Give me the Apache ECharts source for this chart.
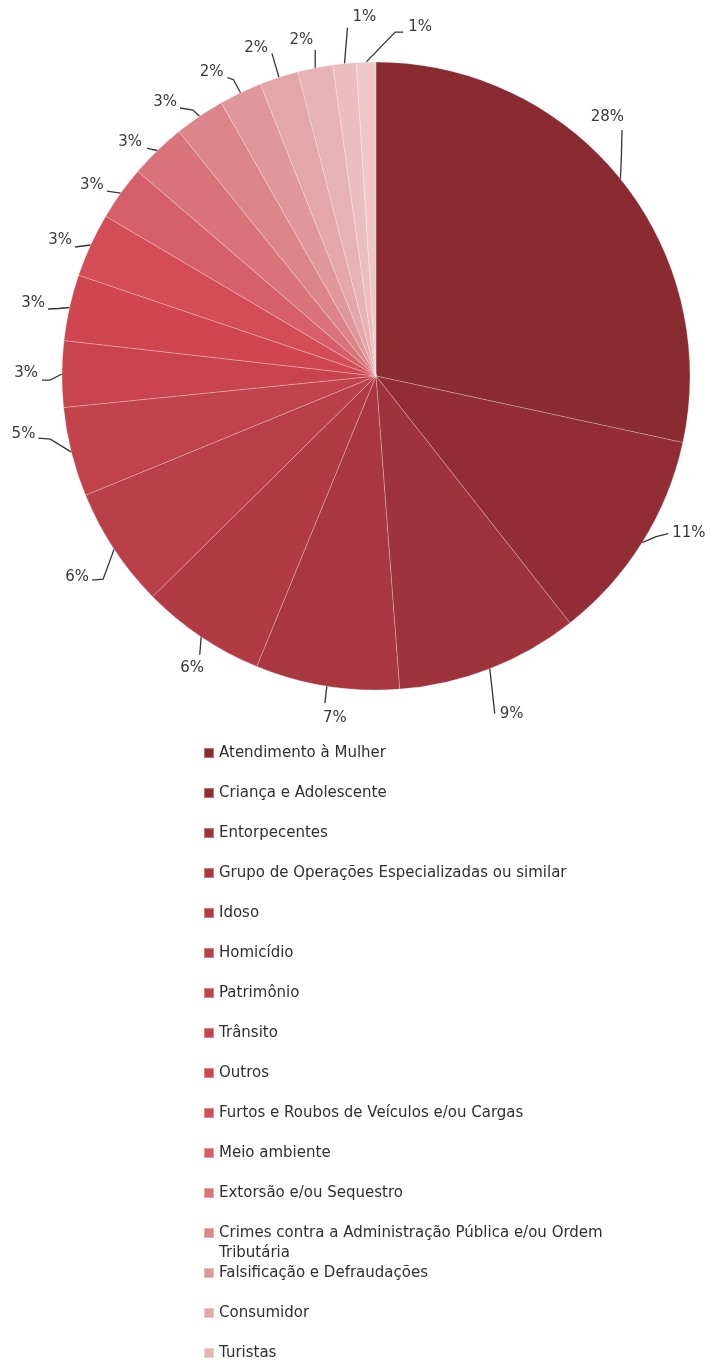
<!DOCTYPE html>
<html>
<head>
<meta charset="utf-8">
<script src="https://cdn.jsdelivr.net/npm/echarts@6/dist/echarts.min.js"></script>
<style>
  html, body { margin: 0; padding: 0; background: #ffffff; }
  #chart { width: 710px; height: 1365px; }
</style>
</head>
<body>
<div id="chart"></div>
<script>
// Categories (legend order = slice order, clockwise from 12 o'clock)
const categories = [
  'Atendimento à Mulher',
  'Criança e Adolescente',
  'Entorpecentes',
  'Grupo de Operações Especializadas ou similar',
  'Idoso',
  'Homicídio',
  'Patrimônio',
  'Trânsito',
  'Outros',
  'Furtos e Roubos de Veículos e/ou Cargas',
  'Meio ambiente',
  'Extorsão e/ou Sequestro',
  'Crimes contra a Administração Pública e/ou Ordem Tributária',
  'Falsificação e Defraudações',
  'Consumidor',
  'Turistas',
  'Categoria 17 (legenda fora da imagem)',
  'Categoria 18 (legenda fora da imagem)'
];
// Share of each slice, in percent
const values = [28.4, 11.0, 9.4, 7.4, 6.4, 6.2, 4.6, 3.4, 3.4, 3.3, 2.8, 2.9, 2.6, 2.2, 2.0, 1.8, 1.2, 1.0];
const colors = ['#892B31', '#922D35', '#9F333B', '#A8373F', '#B03B43', '#B93F48', '#C0424B', '#C8434D',
                '#CF4650', '#D34D57', '#D66069', '#D8737A', '#DB858B', '#DF979B', '#E3A6A9', '#E6B2B4',
                '#EABDBF', '#EEC8C9'];

const legendA = categories.slice(0, 12);
const legendC = categories.slice(12, 13);
const legendB = categories.slice(13, 16);

// Leader-line styling (offsets relative to the slice's edge midpoint given by ECharts)
const labelSpecs = [
  { line: [[1, -25], [1.6, -49]],     text: [-13, -62],   align: 'center' },
  { line: [[14, -6], [26, -9]],       text: [30, -9],     align: 'left' },
  { line: [[2.5, 22], [5, 45]],       text: [10, 45],     align: 'left' },
  { line: [[-1, 8], [-2, 17]],        text: [8, 32],      align: 'center' },
  { line: [[-0.7, 9], [-1.4, 18]],    text: [-9, 31],     align: 'center' },
  { line: [[-11, 30], [-22, 31]],     text: [-25, 28],    align: 'right' },
  { line: [[-21, -13], [-33, -14]],   text: [-36, -18],   align: 'right' },
  { line: [[-12, 6], [-20, 6]],       text: [-24, -1],    align: 'right' },
  { line: [[-11, 1], [-21.5, 1.5]],   text: [-24.5, -4.5], align: 'right' },
  { line: [[-8, 1], [-15.6, 2]],      text: [-18.6, -5],  align: 'right' },
  { line: [[-7, -1], [-14, -2]],      text: [-17, -8],    align: 'right' },
  { line: [[-5, -1], [-10.5, -2.5]],  text: [-15.5, -8.5], align: 'right' },
  { line: [[-6.5, -6.3], [-19.5, -8.3]], text: [-22.5, -14], align: 'right' },
  { line: [[-7, -13], [-13, -15]],    text: [-17, -21],   align: 'right' },
  { line: [[-3.5, -12], [-7, -24]],   text: [-11, -29],   align: 'right' },
  { line: [[0, -9], [0, -18]],        text: [-2, -28],    align: 'right' },
  { line: [[1.5, -18], [3, -36]],     text: [8, -46],     align: 'left' },
  { line: [[29, -30], [37, -30]],     text: [42, -35],    align: 'left' }
];

const chart = echarts.init(document.getElementById('chart'), null, { renderer: 'canvas' });
const FONT = 'DejaVu Sans';

const legendText = { fontFamily: FONT, fontSize: 15, lineHeight: 20, color: '#2f2f2f' };
const legendBase = {
  orient: 'vertical', left: 203, padding: 0,
  itemWidth: 10, itemHeight: 10, itemGap: 20,
  icon: 'rect', textStyle: legendText
};

chart.setOption({
  animation: false,
  color: colors,
  legend: [
    Object.assign({}, legendBase, { top: 743, data: legendA }),
    Object.assign({}, legendBase, {
      top: 1223, itemHeight: 30,
      icon: 'path://M0,0L10,0L10,10L0,10Z M0,30L0.01,30',
      textStyle: Object.assign({}, legendText, { width: 430, overflow: 'break' }),
      data: legendC
    }),
    Object.assign({}, legendBase, { top: 1263, data: legendB })
  ],
  series: [{
    type: 'pie',
    center: [376, 376],
    radius: 314,
    startAngle: 90,
    clockwise: true,
    avoidLabelOverlap: false,
    itemStyle: { borderColor: 'rgba(255,255,255,0.35)', borderWidth: 0.7 },
    label: {
      show: true,
      position: 'outside',
      formatter: p => Math.round(p.percent) + '%',
      fontFamily: FONT, fontSize: 15, color: '#383838'
    },
    labelLine: {
      show: true, length: 12, length2: 10,
      lineStyle: { color: '#353535', width: 1.3 }
    },
    labelLayout: function (params) {
      const spec = labelSpecs[params.dataIndex];
      const pts = params.labelLinePoints;
      if (!spec || !pts) return {};
      const p0 = pts[0];
      return {
        x: p0[0] + spec.text[0],
        y: p0[1] + spec.text[1],
        align: spec.align,
        verticalAlign: 'middle',
        labelLinePoints: [
          [p0[0], p0[1]],
          [p0[0] + spec.line[0][0], p0[1] + spec.line[0][1]],
          [p0[0] + spec.line[1][0], p0[1] + spec.line[1][1]]
        ]
      };
    },
    emphasis: { disabled: true },
    data: categories.map((n, i) => ({ name: n, value: values[i] }))
  }]
});
</script>
</body>
</html>
